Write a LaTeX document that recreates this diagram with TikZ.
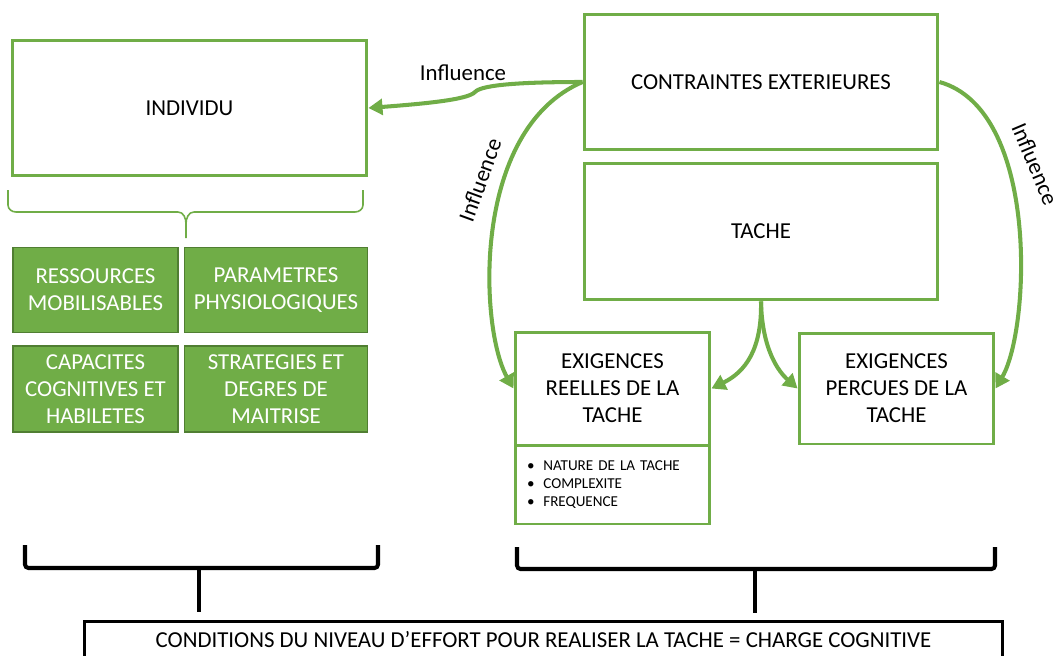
\documentclass[tikz,border=0pt]{standalone}
\usepackage{fontspec}
\setmainfont{Carlito}
\usepackage{xcolor}
\usepackage{tikz}
\usetikzlibrary{arrows.meta, calc}
\definecolor{offgreen}{HTML}{70AD47}
\definecolor{offgreendark}{HTML}{507E32}

\begin{document}
\begin{tikzpicture}[
    x=0.02cm, y=-0.02cm,
    every node/.style={font=\fontsize{13}{15.3}\selectfont, align=center},
    outbox/.style={rectangle, draw=offgreen, line width=1.7pt, inner sep=2pt},
    greenbox/.style={rectangle, draw=offgreendark, line width=0.6pt, fill=offgreen, text=white, minimum height=1.7cm},
    influ/.style={draw=offgreen, line width=2.3pt, -{Triangle[length=8pt, width=9pt]}},
    gbrace/.style={draw=offgreen, line width=0.9pt},
    kbrace/.style={draw=black, line width=2.3pt, rounded corners=2pt},
]
\useasboundingbox (0,0) rectangle (1059,656);

% Individu
\node[outbox, minimum width=7.1cm, minimum height=2.72cm] (ind) at (189.5,108) {INDIVIDU};
\node[greenbox, minimum width=3.3cm] (res) at (95.5,290) {RESSOURCES\\MOBILISABLES};
\node[greenbox, minimum width=3.66cm] (par) at (276,290) {PARAMETRES\\PHYSIOLOGIQUES};
\node[greenbox, minimum width=3.3cm, minimum height=1.72cm] (cap) at (95.5,389) {CAPACITES\\COGNITIVES ET\\HABILETES};
\node[greenbox, minimum width=3.66cm, minimum height=1.72cm] (str) at (276,389) {STRATEGIES ET\\DEGRES DE\\MAITRISE};

\draw[gbrace] (8,190) -- (8,205) to[out=-90,in=180] (16,212) -- (178,212) to[out=0,in=90] (186,224) -- (186,238);
\draw[gbrace] (363,190) -- (363,205) to[out=-90,in=0] (355,212) -- (194,212) to[out=180,in=90] (186,224);

% Tache
\node[outbox, minimum width=7.08cm, minimum height=2.72cm] (ce) at (761,82) {CONTRAINTES EXTERIEURES};
\node[outbox, minimum width=7.08cm, minimum height=2.74cm] (ta) at (761,231.5) {TACHE};
\node[outbox, minimum width=3.9cm, minimum height=2.26cm] (rl) at (612.5,388.5) {EXIGENCES\\REELLES DE LA\\TACHE};
\node[outbox, minimum width=3.9cm, minimum height=1.58cm, text width=3.42cm, inner xsep=0.24cm, align=left,
      font=\fontsize{8.6}{10.2}\selectfont] (lst) at (612.5,484.5)
    {\textbullet\hspace{5pt}NATURE DE LA TACHE\\\textbullet\hspace{5pt}COMPLEXITE\\\textbullet\hspace{5pt}FREQUENCE};
\node[outbox, minimum width=3.9cm, minimum height=2.22cm] (pc) at (896.5,388.5) {EXIGENCES\\PERCUES DE LA\\TACHE};

% Influences
\draw[influ] (ce.west) .. controls (530,82) and (482,84) .. (475,92) .. controls (468,100) and (420,104) .. (ind.east);
\node (lb1) at (463,73) {Influence};
\draw[influ] (ce.west) .. controls (470,130) and (480,330) .. (rl.west);
\node[rotate=70] (lb2) at (480,180) {Influence};
\draw[influ] (ce.east) .. controls (1040,110) and (1030,330) .. (pc.east);
\node[rotate=-67, inner sep=1pt] (lb3) at (1035,164) {Influence};
\draw[influ] (ta.south) .. controls (762,350) and (745,372) .. (rl.east);
\draw[influ] (ta.south) .. controls (762,350) and (779,372) .. (pc.west);

% Charge cognitive
\node[draw=black, line width=1.7pt, minimum width=18.38cm, minimum height=0.76cm] (cc) at (543.5,640)
    {CONDITIONS DU NIVEAU D’EFFORT POUR REALISER LA TACHE = CHARGE COGNITIVE};
\draw[kbrace] (25,545) -- (25,568) -- (378,568) -- (378,545);
\draw[kbrace] (199,568) -- (199,612);
\draw[kbrace] (517,547) -- (517,569) -- (995,569) -- (995,547);
\draw[kbrace] (755,569) -- (755,613);

\end{tikzpicture}
\end{document}
